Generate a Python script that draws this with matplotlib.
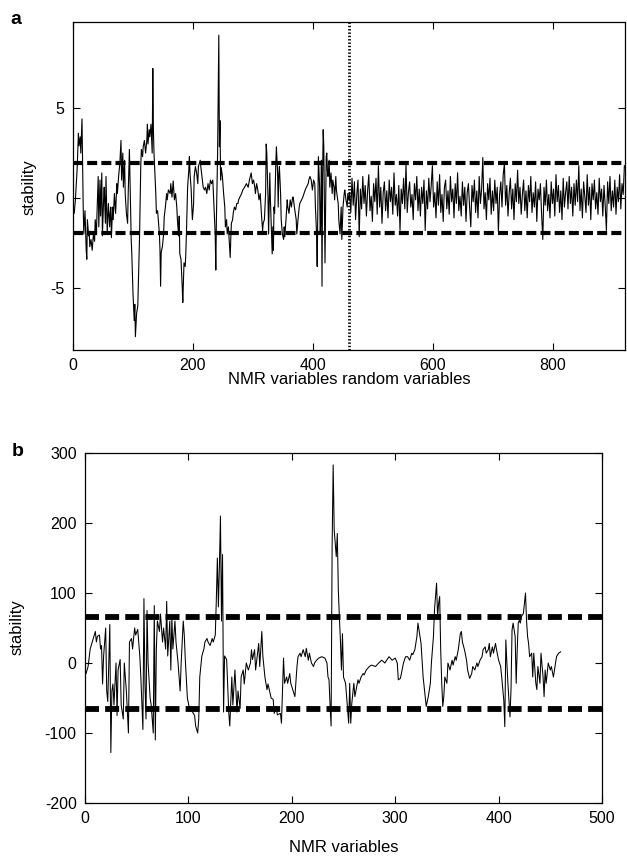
import numpy as np
import matplotlib
matplotlib.use("Agg")
import matplotlib.pyplot as plt

plt.rcParams['font.family'] = ['Liberation Sans', 'DejaVu Sans']
plt.rcParams['axes.unicode_minus'] = False

# ---------------- Panel a : NMR variables (0-460) then random variables ----------------
a_nmr_x = [0, 2, 4, 7, 9, 10, 12, 13, 15, 16, 17, 18, 20, 22, 23, 24, 26, 27, 28, 30, 32, 34, 36, 37, 39,
           40, 42, 43, 45, 46, 48, 49, 51, 52, 54, 55, 57, 59, 61, 62, 63, 64, 66, 67, 69, 71, 73, 74, 76,
           78, 80, 81, 83, 84, 86, 87, 89, 91, 92, 94, 95, 97, 98, 99, 100, 102, 103, 104, 106, 108, 109,
           111, 112, 113, 114, 116, 117, 119, 121, 123, 124, 125, 127, 128, 130, 132, 133, 134, 135, 137,
           138, 139, 141, 143, 144, 145, 146, 147, 149, 151, 152, 154, 156, 157, 159, 162, 163, 165, 167,
           169, 171, 173, 174, 176, 177, 178, 180, 182, 183, 185, 187, 188, 189, 191, 193, 194, 195, 197,
           198, 199, 201, 202, 204, 206, 208, 209, 212, 213, 215, 217, 219, 221, 223, 225, 227, 229, 231,
           233, 236, 237, 238, 239, 241, 242, 243, 244, 245, 246, 247, 249, 251, 253, 254, 256, 257, 259,
           261, 262, 263, 264, 266, 267, 269, 271, 273, 275, 276, 278, 281, 283, 286, 289, 292, 294, 297,
           299, 301, 303, 304, 306, 308, 310, 312, 314, 316, 317, 319, 321, 322, 323, 325, 326, 328, 329,
           331, 332, 333, 334, 335, 336, 338, 339, 341, 342, 343, 344, 346, 347, 349, 351, 352, 353, 355,
           357, 358, 360, 362, 364, 366, 367, 369, 372, 373, 375, 377, 378, 381, 383, 385, 387, 389, 392,
           393, 395, 397, 399, 401, 403, 404, 406, 407, 408, 409, 411, 412, 413, 414, 415, 416, 417, 418,
           419, 420, 422, 423, 424, 425, 427, 428, 430, 432, 433, 435, 436, 438, 439, 442, 443, 445, 447,
           448, 450, 452, 453, 455, 457, 458, 460]
a_nmr_y = [-0.9, -0.85, -0.1, 1.7, 3.6, 2.9, 3.4, 2.5, 4.4, 1.9, -0.5, -2.0, -0.7, -2.9, -3.4, -1.2, -2.1,
           -1.9, -2.7, -2.3, -2.9, -2.0, -2.4, -1.2, -2.0, -0.85, 1.2, -1.6, 1.0, -1.0, 1.4, -2.1, -0.1,
           0.6, -1.4, 1.2, -1.9, -0.3, -1.6, -0.85, -0.5, -2.2, -0.5, -1.2, 0.25, -0.85, 0.8, 0.25, 1.2,
           1.9, 3.2, 1.0, 2.5, 0.6, 2.1, 0.25, -0.85, -1.4, 0.25, 2.7, 1.0, -2.3, -3.1, -4.2, -5.3, -6.8,
           -5.9, -7.7, -6.4, -6.0, -4.7, -2.0, -0.1, 1.9, 2.7, 2.3, 2.85, 3.2, 2.5, 3.2, 4.1, 3.0, 3.8,
           3.4, 4.1, 2.5, 7.2, 3.8, 2.5, 1.0, 0.25, -0.85, -0.7, -1.6, -2.0, -2.9, -4.9, -3.0, -2.7,
           -2.0, -1.05, -0.5, 0.25, -0.1, 0.45, 0.25, 0.8, 0.05, 0.95, -0.1, 0.25, -0.5, -1.2, -2.1,
           -1.0, -3.1, -3.4, -4.9, -5.8, -3.6, -3.8, -3.1, -2.0, 0.6, 1.55, 2.3, 1.4, 0.45, -0.5, -1.2,
           -0.3, 1.2, 1.75, 1.4, 0.8, 1.75, 2.1, 1.75, 1.2, 0.6, 0.45, 0.6, 0.25, 0.8, 0.45, 1.0, 0.8,
           1.0, -1.2, -2.0, -4.0, -1.2, 2.5, 5.6, 9.05, 2.85, 4.3, 1.0, 1.7, 1.2, 0.25, -0.5, -1.6, -1.2,
           -2.0, -1.6, -2.7, -3.3, -2.2, -1.4, -1.2, -0.85, -0.5, -0.65, -0.3, -0.3, -0.1, 0.05, 0.25,
           0.45, 0.6, 0.8, 0.6, 1.0, 1.4, 0.8, 1.0, 0.6, 0.25, 0.8, 0.45, -0.1, 0.25, -0.85, -1.8, -1.4,
           -1.2, 0.25, 3.0, 2.5, 0.05, -2.0, 1.4, -0.1, -2.0, -3.1, -1.6, -2.9, -0.5, -0.85, 1.9, 2.85,
           1.4, -0.5, 1.3, 1.75, 0.25, -1.2, -2.0, -2.3, -1.6, -2.15, -1.2, -0.1, -0.5, -0.85, -0.1, -0.5,
           0.05, 0.05, -0.5, -1.2, -2.0, -1.2, -0.5, -0.3, -0.1, 0.05, 0.25, 0.45, 0.6, 0.8, 1.0, 1.2,
           1.0, 0.45, 1.0, 0.8, -0.5, -2.0, -3.8, -0.5, 2.3, 0.6, -2.0, -1.2, 2.1, -4.9, 1.2, 3.8, 2.85,
           -0.5, -3.6, 2.3, 2.5, 1.55, 1.2, 2.1, 0.6, 1.4, 0.25, 1.0, 0.6, -0.1, 1.2, 0.45, -0.3, -1.2,
           -2.0, -0.5, -2.3, -0.5, 0.25, 0.45, -0.1, -0.5, 0.25, -0.1]

# random variables, read every 2nd variable (461, 463, ..., 919)
a_rand_start, a_rand_step = 461, 2
a_rand_y = [0.3, -0.8, 1.1, -0.4, 0.9, -1.2, 0.2, 1.0, -2.15, 0.5,
            -0.6, 1.2, -0.3, 0.7, -1.0, 0.4, 1.3, -0.7, 0.1, -1.3,
            0.8, -0.2, 1.1, -0.9, 1.8, -0.5, 0.6, -1.4, 0.3, 0.9,
            -0.7, 0.4, -1.1, 1.0, -0.2, 0.6, -0.9, 1.4, -0.4, 0.2,
            -1.0, 0.7, -1.8, 0.5, -0.3, 1.1, -0.6, 1.9, -0.8, 0.3,
            0.9, -0.5, 0.2, -1.2, 0.8, -0.1, 1.2, -0.7, 0.5, -1.0,
            0.6, -0.3, 1.0, -1.8, 0.4, -0.6, 1.1, -0.2, 0.7, 1.8,
            -0.5, 0.3, -1.1, 0.9, -0.4, 1.3, -0.8, 0.2, -1.3, 0.6,
            1.0, -0.6, 0.4, -0.9, 1.2, -0.2, 0.5, -1.1, 0.8, -0.3,
            1.4, -0.7, 0.1, -1.0, 0.9, -0.4, 0.6, -1.3, 0.3, 0.8,
            -0.5, -1.6, 0.7, -0.2, 1.0, -0.8, 0.4, -1.1, 1.2, -0.3,
            0.5, 2.25, -0.6, 0.3, -1.2, 0.8, -0.1, 1.1, -0.9, 0.4,
            -0.7, 1.0, -0.3, 0.6, -1.87, 0.2, 0.9, -0.5, 1.3, 1.9,
            -0.4, 0.7, -1.0, 0.3, 1.1, -0.6, 0.5, -1.2, 0.8, -0.2,
            1.55, -0.3, 0.6, -0.9, 0.2, 1.0, -0.7, 0.4, -1.1, 0.7,
            -0.2, 1.2, -0.8, 0.3, -0.5, 0.9, -1.3, 0.5, -0.1, 0.8,
            -0.9, -2.3, 0.6, -0.4, 1.0, -0.7, 0.2, -1.1, 0.9, -0.3,
            0.5, -1.0, 1.3, -0.2, 0.7, -0.8, 0.4, -1.2, 1.1, -0.5,
            0.3, 0.9, -0.6, 1.2, -0.3, 0.6, -1.0, 0.8, -0.4, 1.0,
            -0.2, 1.8, -0.7, 0.5, -1.1, 0.9, 0.1, -0.8, 1.3, -0.4,
            0.6, -1.2, 0.8, -0.1, 1.0, -0.6, 0.3, -0.9, 1.1, -0.2,
            0.5, -1.0, 0.7, -0.4, -1.8, 0.9, -0.3, 1.2, -0.7, 0.4,
            -0.5, 1.0, -0.9, 0.6, -0.2, 1.3, -0.6, 0.8, 0.2, 1.8]
a_threshold = 1.96
a_split = 460

# ---------------- Panel b : NMR variables only ----------------
b_x = [1, 3, 5, 7, 10, 11, 12, 14, 15, 16, 17, 18, 20, 21, 22, 24, 25, 26, 27, 28, 30, 31, 32, 34, 35, 37,
       38, 40, 42, 43, 45, 46, 48, 49, 51, 53, 54, 56, 57, 58, 59, 60, 61, 63, 64, 66, 67, 68, 69, 70, 72,
       73, 75, 76, 78, 79, 80, 82, 83, 84, 85, 87, 88, 90, 92, 93, 95, 96, 97, 99, 101, 104, 106, 107, 109,
       110, 111, 113, 115, 116, 118, 119, 121, 123, 124, 125, 126, 127, 128, 129, 130, 131, 132, 133, 134,
       135, 137, 139, 140, 142, 143, 145, 147, 148, 150, 151, 153, 154, 156, 158, 160, 161, 162, 164, 165,
       168, 169, 171, 172, 174, 176, 177, 179, 180, 182, 183, 185, 186, 189, 190, 192, 193, 195, 196, 198,
       199, 203, 205, 206, 208, 209, 211, 213, 214, 216, 217, 219, 221, 222, 224, 226, 229, 232, 234, 235,
       236, 237, 238, 239, 240, 241, 243, 244, 245, 246, 247, 248, 249, 250, 252, 253, 255, 256, 257, 258,
       260, 261, 264, 265, 267, 269, 270, 272, 275, 277, 281, 284, 287, 290, 294, 297, 300, 302, 303, 305,
       306, 308, 310, 312, 314, 316, 317, 319, 321, 322, 323, 325, 326, 327, 329, 330, 332, 334, 335, 337,
       338, 339, 340, 341, 342, 343, 344, 345, 346, 347, 348, 350, 351, 353, 355, 356, 358, 359, 361, 363,
       364, 365, 367, 369, 370, 372, 374, 375, 377, 379, 380, 382, 384, 385, 387, 388, 390, 391, 392, 394,
       395, 397, 398, 400, 402, 403, 405, 406, 407, 408, 409, 411, 412, 413, 414, 416, 417, 418, 419, 420,
       421, 422, 424, 426, 427, 428, 429, 430, 432, 433, 434, 436, 437, 438, 440, 441, 443, 444, 445, 446,
       448, 450, 451, 453, 455, 456, 458, 460]
b_y = [-15, -5, 20, 30, 45, 30, 38, 40, 20, 25, -30, 10, 50, -40, -55, 55, -128, -40, -30, -60, 0, -75, -10,
       5, -60, -80, 0, -40, -100, 30, 35, 20, 50, 40, 48, 10, -20, -95, 92, -30, -80, 75, 0, -50, -60, -100,
       82, -110, 20, 60, 45, 70, 30, 50, 20, 88, 10, 60, -10, 65, 20, 60, 30, 0, -40, 0, 60, 40, 5, -50,
       -65, -70, -75, -90, -100, -80, -20, 10, 20, 30, 35, 30, 25, 35, 30, 35, 40, 90, 150, 80, 140, 210,
       60, 155, -70, 10, 5, -70, -90, -20, -60, -10, -70, -40, -65, -20, -10, -30, 0, -10, 0, 19, 5, 19,
       -10, 28, -5, 45, 10, -20, -38, -30, -43, -50, -52, -72, -62, -74, -72, -86, 7, -29, -20, -29, -15,
       -29, -48, -5, 9, 14, 9, 19, 9, 21, 4, 14, 0, -5, 0, 4, 7, 9, 7, 0, -20, -24, -60, -90, 166, 283, 190,
       152, 185, 104, 66, 33, -10, 42, -20, -29, -48, -86, -29, -86, -58, -29, -48, -24, -29, -20, -15, -17,
       -10, -5, -3, -5, 0, 4, 0, 9, 4, 7, 0, -24, -22, -15, 0, 9, 9, 4, 14, 12, 19, 38, 57, 47, 28, 4, -20,
       -48, -62, -48, -29, 0, 38, 76, 95, 114, 66, 85, 95, 19, -29, -62, -48, -20, -29, 0, -10, 4, -3, 9, 4,
       19, 42, 45, 30, 19, 4, -10, -22, -15, -5, -10, 0, -5, 4, 9, 19, 23, 14, 19, 28, 9, 23, 14, 28, 19, 4,
       -5, -20, -53, -91, 33, 0, -29, -77, -38, 47, 57, 38, -29, 19, 57, 61, 57, 66, 71, 100, 61, 38, 28, 9,
       14, -20, 14, -29, -38, -5, -29, 14, -20, -48, -10, -29, 0, -10, -5, -20, 0, 9, 14, 16]
b_threshold = 66

W, H = 627, 860
fig = plt.figure(figsize=(W / 100, H / 100), dpi=100)


def px_axes(l, t, r, b):
    return fig.add_axes([l / W, 1 - b / H, (r - l) / W, (b - t) / H])


def style(ax):
    ax.tick_params(direction='in', top=True, right=True, length=5, width=0.8,
                   labelsize=11.5, pad=6, colors='black')
    for s in ax.spines.values():
        s.set_linewidth(0.9)


# Panel a
axa = px_axes(73, 22, 625, 350)
a_x = np.concatenate([np.array(a_nmr_x, float),
                      a_rand_start + a_rand_step * np.arange(len(a_rand_y))])
a_y = np.concatenate([np.array(a_nmr_y, float), np.array(a_rand_y, float)])
axa.plot(a_x, a_y, color='black', lw=0.8)
axa.axhline(a_threshold, color='black', lw=3.0, ls=(0, (2.4, 1.0)))
axa.axhline(-a_threshold, color='black', lw=3.0, ls=(0, (2.4, 1.0)))
axa.axvline(a_split, color='black', lw=2.0, ls=(0, (0.5, 0.7)))
axa.set_xlim(0, 920)
axa.set_ylim(-8.44, 9.78)
axa.set_xticks([0, 200, 400, 600, 800])
axa.set_yticks([-5, 0, 5])
style(axa)

# Panel b
axb = px_axes(85, 453, 602, 803)
axb.plot(b_x, b_y, color='black', lw=0.75)
axb.axhline(b_threshold, color='black', lw=4.2, ls=(0, (2.4, 1.05)))
axb.axhline(-b_threshold, color='black', lw=4.2, ls=(0, (2.4, 1.05)))
axb.set_xlim(0, 500)
axb.set_ylim(-200, 300)
axb.set_xticks([0, 100, 200, 300, 400, 500])
axb.set_yticks([-200, -100, 0, 100, 200, 300])
style(axb)

# labels
fig.text(349 / W, 1 - 380 / H, 'NMR variables random variables', ha='center', va='center', fontsize=12)
fig.text(29.5 / W, 1 - 187 / H, 'stability', ha='center', va='center', rotation=90, fontsize=12)
fig.text(343.5 / W, 1 - 847 / H, 'NMR variables', ha='center', va='center', fontsize=12)
fig.text(17 / W, 1 - 627 / H, 'stability', ha='center', va='center', rotation=90, fontsize=12)
fig.text(16 / W, 1 - 19.5 / H, 'a', ha='center', va='center', fontsize=14, fontweight='bold')
fig.text(17.5 / W, 1 - 451.5 / H, 'b', ha='center', va='center', fontsize=14, fontweight='bold')

fig.savefig('out.png', dpi=100)
